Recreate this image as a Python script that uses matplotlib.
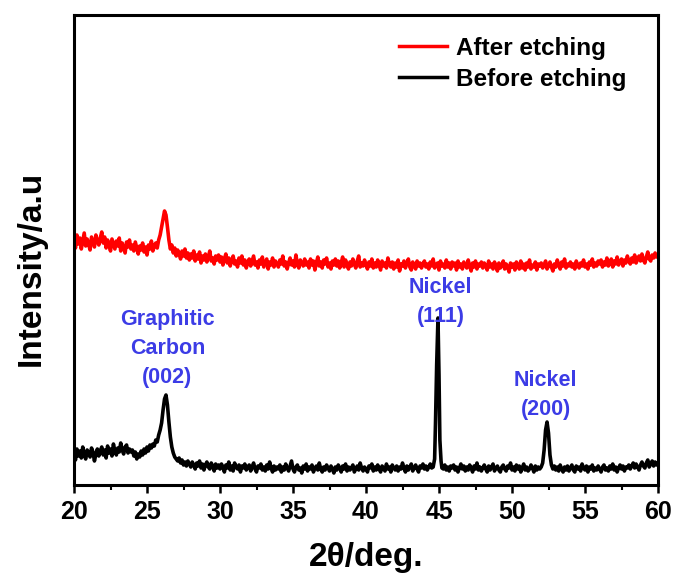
import numpy as np
import matplotlib
matplotlib.use("Agg")
import matplotlib.pyplot as plt

plt.rcParams['font.family'] = ['Liberation Sans', 'DejaVu Sans']

# ── data (intensity in arbitrary units, 0.1 deg steps) ──
two_theta = np.round(20 + 0.1 * np.arange(401), 1)

before_etching = [
    31, 25, 36, 29, 34, 27, 38, 30, 26, 35, 32, 28, 37, 33, 24, 31, 36, 29, 34, 38,
    30, 35, 27, 39, 32, 36, 29, 41, 34, 30, 37, 33, 42, 35, 31, 38, 40, 32, 36, 33,
    35, 29, 33, 26, 31, 28, 34, 30, 36, 32, 38, 34, 40, 37, 41, 39, 45, 43, 50, 55,
    62, 75, 86, 90, 80, 63, 48, 38, 32, 28, 26, 24, 27, 22, 25, 20, 23, 19, 24, 21,
    18, 23, 20, 16, 22, 19, 24, 17, 21, 15, 20, 23, 18, 16, 22, 19, 14, 21, 17, 20,
    16, 21, 18, 13, 20, 17, 23, 15, 19, 14, 22, 18, 16, 20, 13, 19, 17, 21, 15, 18,
    20, 14, 18, 22, 16, 13, 19, 17, 21, 15, 18, 14, 20, 16, 23, 17, 13, 19, 15, 18,
    16, 20, 13, 18, 15, 21, 17, 14, 19, 24, 16, 13, 18, 20, 15, 17, 12, 19, 16, 21,
    14, 18, 16, 20, 13, 17, 19, 15, 22, 16, 13, 18, 15, 20, 17, 14, 19, 16, 12, 18,
    15, 20, 17, 13, 19, 16, 21, 14, 18, 15, 17, 20, 13, 16, 19, 15, 22, 17, 14, 18,
    16, 13, 19, 17, 21, 14, 18, 15, 20, 16, 13, 19, 17, 14, 21, 16, 18, 13, 20, 17,
    15, 19, 14, 18, 16, 22, 17, 13, 19, 15, 18, 21, 14, 17, 20, 16, 13, 19, 17, 21,
    16, 19, 15, 18, 21, 17, 18, 24, 60, 165, 100, 30, 19, 16, 20, 15, 18, 14, 19, 17,
    20, 15, 18, 13, 17, 21, 16, 19, 14, 18, 15, 20, 17, 13, 19, 16, 22, 15, 18, 14,
    17, 20, 16, 13, 19, 15, 18, 21, 14, 17, 19, 15, 13, 18, 20, 16, 14, 19, 17, 22,
    15, 18, 14, 20, 16, 19, 13, 17, 21, 15, 18, 14, 16, 20, 17, 13, 19, 15, 18, 16,
    20, 24, 35, 55, 63, 52, 30, 20, 17, 19, 15, 18, 14, 20, 16, 13, 18, 15, 19, 14,
    17, 20, 15, 13, 19, 16, 18, 14, 21, 17, 15, 19, 13, 18, 16, 20, 14, 17, 15, 19,
    16, 13, 18, 20, 15, 17, 14, 19, 16, 21, 15, 18, 13, 17, 20, 16, 19, 14, 18, 17,
    20, 16, 19, 22, 17, 21, 18, 15, 20, 23, 19, 17, 22, 25, 18, 21, 24, 19, 23, 20,
    22,
]

after_etching = [
    245, 237, 250, 241, 247, 236, 244, 252, 239, 246, 241, 235, 248, 243, 238, 250, 244, 240, 247, 253,
    242, 248, 237, 245, 240, 234, 246, 241, 236, 244, 239, 247, 234, 242, 237, 232, 243, 238, 245, 236,
    240, 234, 243, 237, 231, 239, 235, 242, 233, 238, 230, 240, 236, 244, 234, 239, 242, 237, 245, 250,
    258, 266, 274, 270, 258, 245, 236, 240, 232, 237, 229, 235, 231, 226, 234, 229, 236, 227, 232, 225,
    231, 227, 234, 224, 230, 226, 233, 222, 229, 225, 231, 223, 228, 234, 224, 227, 221, 229, 225, 230,
    223, 228, 220, 226, 231, 222, 227, 219, 225, 229, 221, 224, 218, 227, 222, 229, 220, 225, 217, 223,
    226, 219, 224, 229, 220, 223, 217, 225, 221, 228, 218, 222, 226, 216, 223, 220, 227, 218, 224, 221,
    218, 225, 221, 229, 219, 223, 216, 222, 227, 220, 224, 218, 230, 221, 217, 225, 222, 219, 226, 220,
    223, 217, 226, 220, 224, 215, 222, 228, 219, 223, 217, 225, 221, 227, 218, 222, 216, 224, 220, 226,
    219, 224, 217, 222, 228, 218, 225, 220, 216, 223, 219, 226, 221, 217, 224, 229, 218, 222, 219, 225,
    220, 216, 223, 219, 226, 217, 222, 218, 225, 220, 215, 224, 219, 222, 217, 227, 221, 218, 223, 216,
    222, 218, 225, 214, 221, 219, 224, 217, 222, 226, 218, 215, 223, 220, 216, 224, 219, 222, 217, 221,
    224, 218, 221, 216, 223, 219, 226, 217, 220, 222, 215, 224, 219, 221, 217, 225, 218, 222, 216, 223,
    219, 222, 215, 224, 218, 221, 216, 223, 220, 217, 225, 219, 214, 222, 218, 224, 216, 221, 219, 223,
    217, 222, 219, 215, 224, 218, 221, 216, 223, 219, 214, 222, 217, 220, 224, 216, 221, 218, 213, 222,
    218, 221, 215, 223, 219, 216, 224, 217, 221, 215, 222, 218, 225, 216, 220, 218, 223, 215, 221, 219,
    222, 217, 220, 224, 216, 219, 223, 218, 214, 221, 218, 225, 220, 216, 223, 219, 226, 217, 221, 219,
    223, 218, 221, 216, 224, 220, 217, 222, 219, 225, 218, 221, 216, 223, 220, 226, 218, 222, 219, 224,
    221, 225, 218, 223, 220, 227, 219, 222, 226, 218, 224, 221, 228, 220, 223, 226, 219, 225, 222, 229,
    224, 221, 227, 223, 230, 222, 226, 229, 224, 231, 225, 222, 228, 233, 226, 224, 230, 227, 232, 228,
    229,
]

# sharp nickel reflections, sampled finer than the base grid
ni111_x = [44.6, 44.7, 44.76, 44.84, 44.93, 45.0, 45.06, 45.14, 45.2]
ni111_y = [18, 26, 62, 120, 167, 110, 45, 24, 17]
ni200_x = [52.0, 52.1, 52.2, 52.3, 52.4, 52.5, 52.6, 52.7, 52.8]
ni200_y = [18, 22, 35, 55, 63, 52, 30, 20, 16]

peak_labels = ['Graphitic\nCarbon\n(002)', 'Nickel\n(111)', 'Nickel\n(200)']
label_x = [26.4, 45.1, 52.3]
label_y = [137, 183, 90]

# merge the fine peak samples into the black pattern
bx = np.array(two_theta)
by = np.array(before_etching, dtype=float)
for px, py in [(ni111_x, ni111_y), (ni200_x, ni200_y)]:
    keep = (bx < px[0] - 0.05) | (bx > px[-1] + 0.05)
    bx = np.concatenate([bx[keep], px])
    by = np.concatenate([by[keep], py])
order = np.argsort(bx)
bx, by = bx[order], by[order]

# ── figure ────────────────────────────────────────────────────────────────────
fig = plt.figure(figsize=(6.73, 5.75), dpi=100)
ax = fig.add_axes([74/673, 90/575, 584/673, 470/575])

ax.plot(two_theta, after_etching, color='#ff0000', lw=2.6, label='After etching')
ax.plot(bx, by, color='black', lw=2.6, label='Before etching')

for txt, x, y in zip(peak_labels, label_x, label_y):
    ax.text(x, y, txt, color='#3c3ce6', fontsize=15.5, fontweight='bold',
            ha='center', va='center', linespacing=1.5)

ax.set_xlim(20, 60)
ax.set_ylim(0, 470)
ax.set_xticks(np.arange(20, 61, 5))
ax.set_xticks(np.arange(22.5, 60, 5), minor=True)
ax.set_yticks([])
ax.tick_params(axis='x', which='major', direction='out', length=6, width=1.8,
               labelsize=18, pad=5)
ax.tick_params(axis='x', which='minor', direction='out', length=3.5, width=1.5)
for lab in ax.get_xticklabels():
    lab.set_fontweight('bold')
for sp in ax.spines.values():
    sp.set_linewidth(2.2)

ax.set_xlabel('2θ/deg.', fontsize=24, fontweight='bold', labelpad=13)
ax.set_ylabel('Intensity/a.u', fontsize=24, fontweight='bold')
ax.yaxis.set_label_coords(-0.047, 0.46)

leg = ax.legend(loc='upper right', bbox_to_anchor=(0.983, 1.0), frameon=False,
                prop={'size': 17.5, 'weight': 'bold'}, handlelength=2.0,
                handletextpad=0.35, labelspacing=0.32)
for h in leg.get_lines():
    h.set_linewidth(2.5)

fig.savefig('out.png', dpi=100)
